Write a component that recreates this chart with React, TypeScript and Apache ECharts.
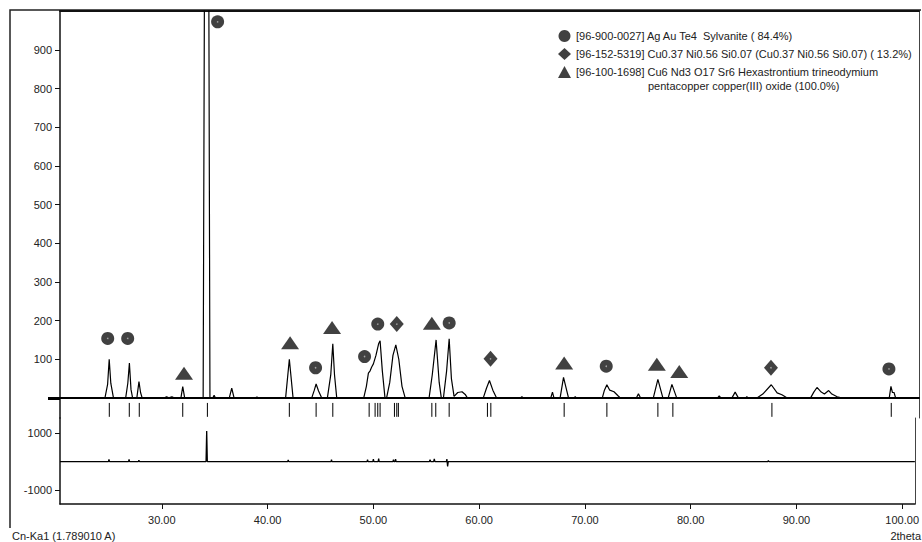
import React, { useEffect, useRef } from "react";
import * as echarts from "echarts";

// Observed XRD profile (2theta, counts)
const profileTheta = [
  20.37, 24.6, 24.85, 25.0, 25.15, 25.4,
  26.55, 26.75, 26.9, 27.05, 27.2,
  27.6, 27.8, 27.95, 28.1,
  30.2, 30.4, 30.6, 30.9, 31.1,
  31.75, 31.92, 32.1,
  33.84, 34.18, 34.48,
  34.75, 34.87, 35.0,
  36.3, 36.53, 36.75,
  38.75, 38.9, 39.05,
  41.6, 41.95, 42.3,
  44.06, 44.3, 44.47, 44.7, 45.0,
  45.53, 45.85, 46.04, 46.2, 46.41,
  48.95, 49.2, 49.39, 49.55, 49.7, 49.86, 50.1, 50.35, 50.49, 50.7, 50.95,
  51.1, 51.4, 51.7, 51.97, 52.25, 52.55, 52.85,
  55.1, 55.4, 55.76, 56.05, 56.25,
  56.45, 56.75, 56.99, 57.2, 57.45, 57.8, 58.2, 58.5, 58.7,
  60.2, 60.5, 60.78, 61.1, 61.45,
  63.7, 63.83, 64.0,
  66.55, 66.71, 66.85,
  67.43, 67.75, 68.22,
  68.75, 68.85, 68.95,
  71.4, 71.6, 71.83, 72.1, 72.5, 72.9, 73.1,
  74.6, 74.8, 75.0,
  76.2, 76.63, 77.1,
  77.6, 77.95, 78.4,
  82.25, 82.4, 82.55,
  83.6, 83.9, 84.2,
  84.9, 85.0, 85.1,
  85.95, 86.5, 87.3, 87.85, 88.3, 88.8,
  91.0, 91.3, 91.6, 92.0, 92.3, 92.7, 93.0, 93.5, 93.9,
  98.4, 98.56, 98.7, 98.85, 99.0,
  101.2,
];
const profileCounts = [
  0, 0, 35, 100, 38, 0,
  0, 38, 90, 22, 0,
  0, 42, 14, 0,
  0, 3, 0, 3, 0,
  0, 29, 0,
  0, 3000, 0,
  0, 7, 0,
  0, 25, 0,
  0, 2, 0,
  0, 100, 0,
  0, 20, 36, 18, 0,
  0, 60, 140, 60, 0,
  0, 30, 64, 70, 80, 88, 110, 140, 148, 70, 0,
  0, 40, 110, 137, 100, 30, 0,
  0, 60, 150, 40, 0,
  0, 70, 153, 50, 4, 14, 16, 9, 0,
  0, 25, 45, 20, 0,
  0, 3, 0,
  0, 15, 0,
  0, 53, 0,
  0, 3, 0,
  0, 20, 34, 20, 16, 5, 0,
  0, 11, 0,
  0, 48, 0,
  0, 35, 0,
  0, 5, 0,
  0, 15, 0,
  0, 3, 0,
  0, 10, 34, 13, 8, 0,
  0, 15, 27, 15, 10, 19, 10, 3, 0,
  0, 30, 14, 14, 0,
  0,
];

// Reference phase line positions (2theta)
const referenceTicks = [
  25.01, 26.89, 27.83, 31.92, 34.24, 41.95, 44.47, 46.04, 49.46, 50.02, 50.27,
  50.49, 51.84, 52.06, 52.21, 55.36, 55.73, 56.99, 60.59, 60.91, 67.81, 71.83,
  76.63, 78.04, 87.36, 98.59,
];
const tickTop = -13;
const tickBottom = -49;

// Phase markers
const sylvaniteTheta = [24.86, 26.74, 35.2, 44.42, 49.03, 50.27, 56.99, 71.77, 98.37];
const sylvaniteCounts = [154, 154, 973, 78, 107, 191, 194, 82, 75];
const cuNiSiTheta = [52.06, 60.88, 87.27];
const cuNiSiCounts = [191, 101, 78];
const cuNdSrTheta = [32.04, 42.02, 45.97, 55.36, 67.81, 76.53, 78.64];
const cuNdSrCounts = [64, 143, 182, 193, 90, 87, 68];

// Difference (residual) curve
const residualTheta = [
  20.37, 24.95, 25.0, 25.05, 26.85, 26.9, 26.95, 27.78, 27.83, 27.88,
  34.18, 34.24, 34.3, 41.9, 41.95, 42.0, 46.0, 46.04, 46.08,
  49.4, 49.45, 49.5, 49.95, 50.0, 50.05, 50.45, 50.5, 50.55,
  51.85, 51.9, 51.95, 52.05, 52.1, 52.15, 55.3, 55.36, 55.42,
  55.7, 55.76, 55.82, 56.9, 56.95, 57.02, 57.08, 87.3, 87.35, 87.4, 101.2,
];
const residualCounts = [
  0, 0, 80, 0, 0, 80, 0, 0, 50, 0,
  0, 1080, 0, 0, 60, 0, 0, 70, 0,
  0, 70, 0, 0, 90, 0, 0, 100, 0,
  0, 70, 0, 0, 90, 0, 0, 70, 0,
  0, 90, 0, 0, 90, -170, 0, 0, 40, 0, 0,
];

const xTickValues = [30, 40, 50, 60, 70, 80, 90, 100];
const yTickValues = [100, 200, 300, 400, 500, 600, 700, 800, 900];
const lowerTickValues = [-1000, 1000];

const legendNames = [
  "[96-900-0027] Ag Au Te4  Sylvanite ( 84.4%)",
  "[96-152-5319] Cu0.37 Ni0.56 Si0.07 (Cu0.37 Ni0.56 Si0.07) ( 13.2%)",
  "[96-100-1698] Cu6 Nd3 O17 Sr6 Hexastrontium trineodymium",
];
const legendContinuation = "pentacopper copper(III) oxide (100.0%)";
const wavelengthText = "Cn-Ka1 (1.789010 A)";
const xAxisTitle = "2theta";

const FONT = "'Liberation Sans', Arial, sans-serif";
const TXT = "#222";
const X_MIN = 20.37;
const X_MAX = 101.2;

function zip(a: number[], b: (number | string)[]) {
  return a.map((v, i) => [v, b[i]]);
}

export default function App() {
  const ref = useRef<HTMLDivElement>(null);
  useEffect(() => {
    const chart = echarts.init(ref.current!, null, { renderer: "svg" });
    const tickData: any[] = [];
    referenceTicks.forEach((t) => {
      tickData.push([t, tickTop], [t, tickBottom], [t, "-"]);
    });
    const labelStyle = { fontSize: 11, color: TXT, fontFamily: FONT };
    const option: any = {
      animation: false,
      backgroundColor: "#fff",
      textStyle: { fontFamily: FONT },
      grid: [
        { left: 60, right: 3, top: 11, height: 407 },
        { left: 60, right: 3, top: 418, height: 86 },
      ],
      xAxis: [
        {
          type: "value", gridIndex: 0, min: X_MIN, max: X_MAX,
          axisLine: { show: true, onZero: true, lineStyle: { color: "#000", width: 2 } },
          axisTick: { show: false }, axisLabel: { show: false }, splitLine: { show: false },
        },
        {
          type: "value", gridIndex: 0, position: "top", min: X_MIN, max: X_MAX,
          axisLine: { show: true, onZero: false, lineStyle: { color: "#111", width: 2 } },
          axisTick: { show: false }, axisLabel: { show: false }, splitLine: { show: false },
        },
        {
          type: "value", gridIndex: 1, position: "bottom", min: X_MIN, max: X_MAX,
          axisLine: { show: true, onZero: false, lineStyle: { color: "#111", width: 1.5 } },
          axisTick: { show: true, customValues: xTickValues, length: 5, lineStyle: { color: "#111" } },
          axisLabel: { ...labelStyle, customValues: xTickValues, margin: 10, formatter: (v: number) => v.toFixed(2) },
          splitLine: { show: false },
        },
      ],
      yAxis: [
        {
          type: "value", gridIndex: 0, position: "left", min: -52, max: 1001,
          axisLine: { show: true, lineStyle: { color: "#111", width: 1.5 } },
          axisTick: { show: true, customValues: yTickValues, length: 5, lineStyle: { color: "#111" } },
          axisLabel: { ...labelStyle, customValues: yTickValues, margin: 8, formatter: (v: number) => String(v) },
          splitLine: { show: false },
        },
        {
          type: "value", gridIndex: 0, position: "left", min: -52, max: 1001,
          axisLine: { show: false },
          axisTick: { show: true, customValues: [0], length: 12, lineStyle: { color: "#000", width: 3 } },
          axisLabel: { show: false }, splitLine: { show: false },
        },
        {
          type: "value", gridIndex: 0, position: "right", min: -52, max: 1001,
          axisLine: { show: true, lineStyle: { color: "#444", width: 1 } },
          axisTick: { show: false }, axisLabel: { show: false }, splitLine: { show: false },
        },
        {
          type: "value", gridIndex: 1, position: "left", min: -1500, max: 1540,
          axisLine: { show: true, lineStyle: { color: "#111", width: 1.5 } },
          axisTick: { show: true, customValues: lowerTickValues, length: 5, lineStyle: { color: "#111" } },
          axisLabel: { ...labelStyle, customValues: lowerTickValues, margin: 8, formatter: (v: number) => String(v) },
          splitLine: { show: false },
        },
        {
          type: "value", gridIndex: 1, position: "right", min: -1500, max: 1540,
          axisLine: { show: true, lineStyle: { color: "#444", width: 1 } },
          axisTick: { show: false }, axisLabel: { show: false }, splitLine: { show: false },
        },
      ],
      legend: {
        orient: "vertical", left: 553, top: 25, itemWidth: 13, itemHeight: 12, itemGap: 6,
        selectedMode: false,
        textStyle: { fontSize: 11, color: TXT, fontFamily: FONT },
        data: [
          { name: legendNames[0], icon: "circle" },
          { name: legendNames[1], icon: "diamond" },
          { name: legendNames[2], icon: "triangle" },
        ],
      },
      graphic: [
        {
          type: "polyline", silent: true,
          shape: { points: [[10, 528], [10, 10], [921, 10]] },
          style: { stroke: "#222", lineWidth: 1.5, fill: null },
        },
        {
          type: "text", left: 648, top: 80,
          style: { text: legendContinuation, fontSize: 11, fill: TXT, fontFamily: FONT },
        },
        {
          type: "text", left: 12, top: 530,
          style: { text: wavelengthText, fontSize: 11, fill: TXT, fontFamily: FONT },
        },
        {
          type: "text", right: 1, top: 530,
          style: { text: xAxisTitle, fontSize: 11, fill: TXT, fontFamily: FONT },
        },
      ],
      series: [
        {
          type: "line", name: "observed", xAxisIndex: 0, yAxisIndex: 0, symbol: "none",
          lineStyle: { color: "#000", width: 1.2 }, data: zip(profileTheta, profileCounts),
        },
        {
          type: "line", name: "reference", xAxisIndex: 0, yAxisIndex: 0, symbol: "none",
          connectNulls: false, lineStyle: { color: "#000", width: 1 }, data: tickData,
        },
        {
          type: "line", name: "difference", xAxisIndex: 2, yAxisIndex: 3, symbol: "none",
          lineStyle: { color: "#000", width: 1.3 }, data: zip(residualTheta, residualCounts),
        },
        {
          type: "scatter", name: legendNames[0], xAxisIndex: 0, yAxisIndex: 0,
          symbol: "circle", symbolSize: 13, itemStyle: { color: "#111" },
          data: zip(sylvaniteTheta, sylvaniteCounts),
        },
        {
          type: "scatter", name: legendNames[1], xAxisIndex: 0, yAxisIndex: 0,
          symbol: "diamond", symbolSize: [14, 16], itemStyle: { color: "#111" },
          data: zip(cuNiSiTheta, cuNiSiCounts),
        },
        {
          type: "scatter", name: legendNames[2], xAxisIndex: 0, yAxisIndex: 0,
          symbol: "triangle", symbolSize: [18, 13], itemStyle: { color: "#111" },
          data: zip(cuNdSrTheta, cuNdSrCounts),
        },
        {
          type: "scatter", name: "centre dots", xAxisIndex: 0, yAxisIndex: 0, silent: true,
          symbol: "circle", symbolSize: 1.6, itemStyle: { color: "#bbb" }, z: 5,
          data: zip(sylvaniteTheta, sylvaniteCounts).concat(zip(cuNiSiTheta, cuNiSiCounts)),
        },
      ],
    };
    chart.setOption(option);
    return () => chart.dispose();
  }, []);
  return (
    <div
      ref={ref}
      style={{ position: "fixed", left: 0, top: 0, width: 922, height: 542 }}
    />
  );
}
